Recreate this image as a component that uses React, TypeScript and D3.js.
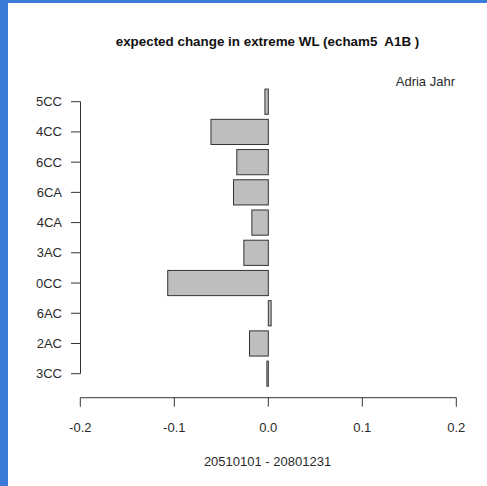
import React from "react";
import * as d3 from "d3";

const categories = ["5CC", "4CC", "6CC", "6CA", "4CA", "3AC", "0CC", "6AC", "2AC", "3CC"];
const values = [-0.0036, -0.061, -0.0335, -0.037, -0.0175, -0.026, -0.107, 0.003, -0.02, -0.0015];
const xTicks = [-0.2, -0.1, 0.0, 0.1, 0.2];
const title = "expected change in extreme WL (echam5  A1B )";
const subtitle = "20510101 - 20801231";
const cornerLabel = "Adria Jahr";

const W = 487;
const H = 486;
const FONT = "'Liberation Sans', Arial, Helvetica, sans-serif";

export default function App() {
  const x = d3.scaleLinear().domain([-0.2, 0.2]).range([80.3, 456.3]);
  const y = d3.scalePoint<string>().domain(categories).range([101.7, 373.7]);
  const barH = y.step() / 1.2;
  const axisY = 397.7;
  const axisX = 80.5;
  const textColor = "#2a2a2a";
  const lineColor = "#333";
  const fmt = (t: number) => d3.format(".1f")(t).replace("\u2212", "-");

  return (
    <div style={{ position: "fixed", left: 0, top: 0, width: W, height: H, background: "#fff" }}>
      <svg width={W} height={H} style={{ display: "block" }} fontFamily={FONT}>
        <rect x={0} y={0} width={W} height={H} fill="#fff" />
        <rect x={0} y={0} width={W} height={3} fill="#3a7bd8" />
        <rect x={0} y={0} width={8} height={H} fill="#3a7bd8" />

        <text
          x={267.5}
          y={46.3}
          textAnchor="middle"
          fontWeight="bold"
          fontSize={13.4}
          fill="#111"
          style={{ whiteSpace: "pre" }}
        >
          {title}
        </text>
        <text x={455} y={86} textAnchor="end" fontSize={13} fill={textColor}>
          {cornerLabel}
        </text>

        {categories.map((c, i) => {
          const v = values[i];
          const x0 = x(Math.min(0, v));
          const x1 = x(Math.max(0, v));
          return (
            <rect
              key={c}
              x={x0}
              y={(y(c) as number) - barH / 2}
              width={Math.max(x1 - x0, 0.5)}
              height={barH}
              fill="#bebebe"
              stroke={lineColor}
              strokeWidth={1}
            />
          );
        })}

        {/* y axis */}
        <line x1={axisX} x2={axisX} y1={y(categories[0])} y2={y(categories[categories.length - 1])} stroke={lineColor} />
        {categories.map((c) => (
          <g key={c}>
            <line x1={71} x2={axisX} y1={y(c)} y2={y(c)} stroke={lineColor} />
            <text x={62} y={(y(c) as number) + 4.5} textAnchor="end" fontSize={13} fill={textColor}>
              {c}
            </text>
          </g>
        ))}

        {/* x axis */}
        <line x1={x(xTicks[0])} x2={x(xTicks[xTicks.length - 1])} y1={axisY} y2={axisY} stroke={lineColor} />
        {xTicks.map((t) => (
          <g key={t}>
            <line x1={x(t)} x2={x(t)} y1={axisY} y2={axisY + 9} stroke={lineColor} />
            <text x={x(t)} y={432.3} textAnchor="middle" fontSize={13} fill={textColor}>
              {fmt(t)}
            </text>
          </g>
        ))}
        <text x={267.5} y={466.3} textAnchor="middle" fontSize={13} fill={textColor}>
          {subtitle}
        </text>
      </svg>
    </div>
  );
}
